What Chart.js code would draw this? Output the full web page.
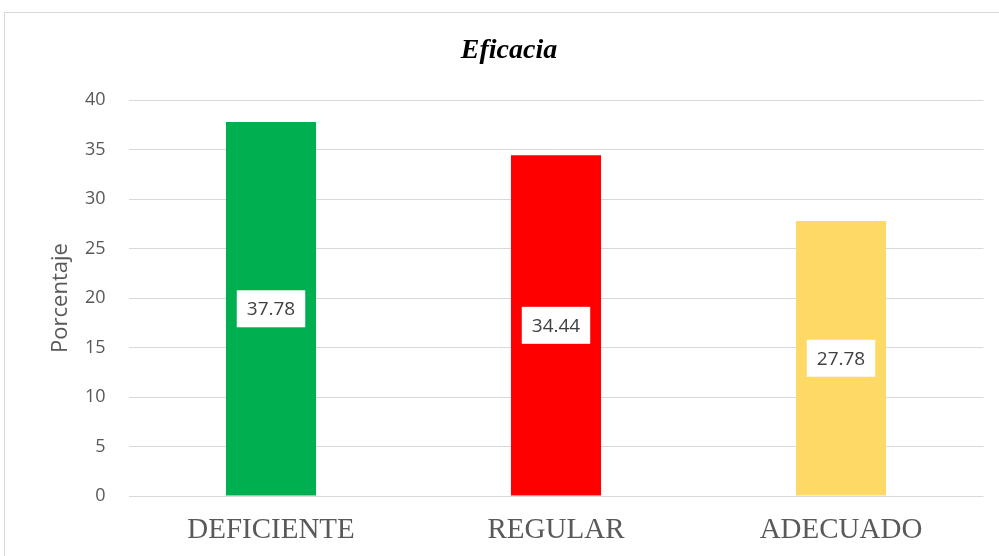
<!DOCTYPE html>
<html>
<head>
<meta charset="utf-8">
<script src="https://cdn.jsdelivr.net/npm/chart.js@4.4.1/dist/chart.umd.min.js"></script>
<style>
  html, body { margin: 0; padding: 0; background: #fff; }
  #frame { position: absolute; left: 4px; top: 12px; width: 1010px; height: 560px; border: 1px solid #d9d9d9; box-sizing: border-box; }
  #wrap { position: absolute; left: 0; top: 0; width: 999px; height: 556px; }
</style>
</head>
<body>
<div id="frame"></div>
<div id="wrap"><canvas id="c" width="999" height="556"></canvas></div>
<script>
const categories = ["DEFICIENTE", "REGULAR", "ADECUADO"];
const values = [37.78, 34.44, 27.78];
const barColors = ["#00b050", "#ff0000", "#ffd966"];
const yTicks = [0, 5, 10, 15, 20, 25, 30, 35, 40];
const chartTitle = "Eficacia";
const yTitle = "Porcentaje";

const labelPlugin = {
  id: 'boxLabels',
  afterDatasetsDraw(chart) {
    const ctx = chart.ctx;
    const meta = chart.getDatasetMeta(0);
    ctx.save();
    ctx.font = '19px "Open Sans"';
    ctx.textAlign = 'center';
    ctx.textBaseline = 'middle';
    meta.data.forEach((bar, i) => {
      const txt = values[i].toFixed(2);
      const cy = (bar.y + bar.base) / 2;
      const w = ctx.measureText(txt).width + 20;
      const h = 37;
      ctx.fillStyle = '#ffffff';
      ctx.fillRect(bar.x - w / 2, cy - h / 2, w, h);
      ctx.fillStyle = '#404040';
      ctx.fillText(txt, bar.x, cy + 1);
    });
    ctx.restore();
  }
};

new Chart(document.getElementById('c'), {
  type: 'bar',
  data: {
    labels: categories,
    datasets: [{
      data: values,
      backgroundColor: barColors,
      borderWidth: 0,
      categoryPercentage: 1,
      barPercentage: 0.316
    }]
  },
  options: {
    responsive: false,
    animation: false,
    devicePixelRatio: 1,
    layout: { padding: { left: 34.5, right: 15.5, top: 0, bottom: 0 } },
    plugins: {
      legend: { display: false },
      tooltip: { enabled: false },
      title: {
        display: true,
        text: chartTitle,
        color: '#000000',
        font: { family: '"Liberation Serif", "Times New Roman", serif', size: 28, style: 'italic', weight: 'bold', lineHeight: 1.2 },
        padding: { top: 33.5, bottom: 33 }
      }
    },
    scales: {
      x: {
        grid: { display: false, drawTicks: false },
        border: { display: false },
        ticks: {
          color: '#595959',
          padding: 17,
          font: { family: '"Liberation Serif", "Times New Roman", serif', size: 29 }
        },
        afterFit(scale) { scale.height = 60; }
      },
      y: {
        min: 0,
        max: 40,
        afterBuildTicks(scale) { scale.ticks = yTicks.map(v => ({ value: v })); },
        grid: { color: '#d9d9d9', lineWidth: 1, drawTicks: false },
        border: { display: false },
        ticks: {
          color: '#595959',
          padding: 23,
          font: { family: '"Open Sans", sans-serif', size: 18 }
        },
        title: {
          display: true,
          text: yTitle,
          color: '#595959',
          font: { family: '"Open Sans", sans-serif', size: 22 },
          padding: { top: 13, bottom: 4 }
        },
        afterFit(scale) { scale.width = 94; }
      }
    }
  },
  plugins: [labelPlugin]
});
</script>
</body>
</html>
